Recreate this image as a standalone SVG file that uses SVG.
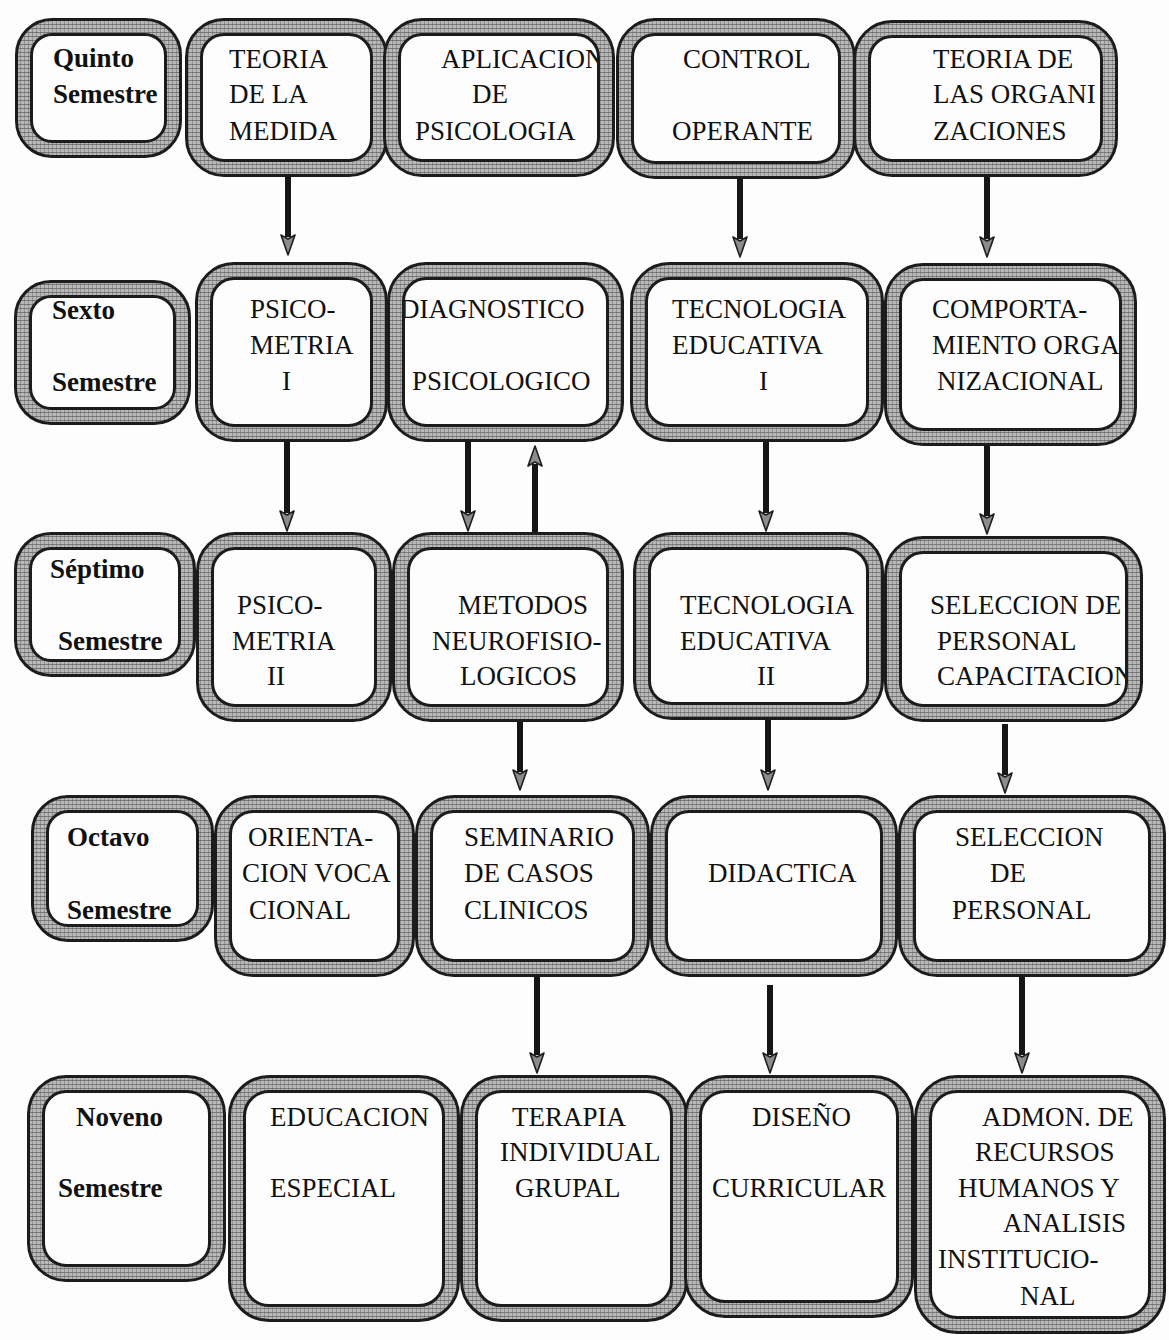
<svg xmlns="http://www.w3.org/2000/svg" width="1169" height="1340" viewBox="0 0 1169 1340">
<defs>
<pattern id="tex" width="4" height="4" patternUnits="userSpaceOnUse">
<rect width="4" height="4" fill="#b8b8b8"/>
<path d="M0 0.5H4" stroke="#3c3c3c" stroke-width="1" opacity="0.5"/>
<path d="M0.5 0V4" stroke="#5a5a5a" stroke-width="1" opacity="0.4"/>
</pattern>
<marker id="ah" viewBox="0 -9 24 18" refX="4" refY="0" markerWidth="24" markerHeight="18" markerUnits="userSpaceOnUse" orient="auto">
<path d="M2,-7 L22,0 L2,7 L6,0 Z" fill="#8c8c8c" stroke="#1e1e1e" stroke-width="1.6" stroke-linejoin="round"/>
</marker>
</defs>
<style>
.o{fill:none;stroke:#1c1c1c;stroke-width:18}
.t{fill:none;stroke:url(#tex);stroke-width:12}
text{font-family:"Liberation Serif","Times New Roman",serif;font-size:27px;fill:#111}
.lb{font-weight:bold;font-size:27px}
.ar{stroke:#161616;stroke-width:6;fill:none;marker-end:url(#ah)}
</style>
<rect width="1169" height="1340" fill="#fdfdfd"/>

<!-- Row 1 -->
<g id="quinto">
<text class="lb" x="53" y="67">Quinto</text>
<text class="lb" x="53" y="103">Semestre</text>
<rect class="o" x="24" y="27" width="149" height="122" rx="28"/>
<rect class="t" x="24" y="27" width="149" height="122" rx="28"/>
</g>
<g id="teoria-medida">
<text x="229" y="68">TEORIA</text>
<text x="229" y="103">DE LA</text>
<text x="229" y="140">MEDIDA</text>
<rect class="o" x="194" y="27" width="185" height="141" rx="30"/>
<rect class="t" x="194" y="27" width="185" height="141" rx="30"/>
</g>
<g id="aplicacion">
<text x="441" y="68">APLICACION</text>
<text x="472" y="103">DE</text>
<text x="415" y="140">PSICOLOGIA</text>
<rect class="o" x="392" y="27" width="214" height="141" rx="30"/>
<rect class="t" x="392" y="27" width="214" height="141" rx="30"/>
</g>
<g id="control">
<text x="683" y="68">CONTROL</text>
<text x="672" y="140">OPERANTE</text>
<rect class="o" x="625" y="27" width="222" height="143" rx="30"/>
<rect class="t" x="625" y="27" width="222" height="143" rx="30"/>
</g>
<g id="teoria-org">
<text x="933" y="68">TEORIA DE</text>
<text x="933" y="103">LAS ORGANI</text>
<text x="933" y="140">ZACIONES</text>
<rect class="o" x="862" y="29" width="247" height="139" rx="30"/>
<rect class="t" x="862" y="29" width="247" height="139" rx="30"/>
</g>

<!-- Row 2 -->
<g id="sexto">
<text class="lb" x="52" y="319">Sexto</text>
<text class="lb" x="52" y="391">Semestre</text>
<rect class="o" x="23" y="289" width="159" height="127" rx="28"/>
<rect class="t" x="23" y="289" width="159" height="127" rx="28"/>
</g>
<g id="psicometria1">
<text x="250" y="318">PSICO-</text>
<text x="250" y="354">METRIA</text>
<text x="282" y="390">I</text>
<rect class="o" x="204" y="271" width="175" height="162" rx="30"/>
<rect class="t" x="204" y="271" width="175" height="162" rx="30"/>
</g>
<g id="diagnostico">
<text x="400" y="318">DIAGNOSTICO</text>
<text x="412" y="390">PSICOLOGICO</text>
<rect class="o" x="396" y="271" width="219" height="162" rx="30"/>
<rect class="t" x="396" y="271" width="219" height="162" rx="30"/>
</g>
<g id="tecnologia1">
<text x="672" y="318">TECNOLOGIA</text>
<text x="672" y="354">EDUCATIVA</text>
<text x="759" y="390">I</text>
<rect class="o" x="639" y="271" width="236" height="162" rx="30"/>
<rect class="t" x="639" y="271" width="236" height="162" rx="30"/>
</g>
<g id="comportamiento">
<text x="932" y="318">COMPORTA-</text>
<text x="932" y="354">MIENTO ORGA</text>
<text x="937" y="390">NIZACIONAL</text>
<rect class="o" x="893" y="272" width="235" height="165" rx="30"/>
<rect class="t" x="893" y="272" width="235" height="165" rx="30"/>
</g>

<!-- Row 3 -->
<g id="septimo">
<text class="lb" x="50" y="578">Séptimo</text>
<text class="lb" x="58" y="650">Semestre</text>
<rect class="o" x="23" y="541" width="164" height="127" rx="28"/>
<rect class="t" x="23" y="541" width="164" height="127" rx="28"/>
</g>
<g id="psicometria2">
<text x="237" y="614">PSICO-</text>
<text x="232" y="650">METRIA</text>
<text x="267" y="685">II</text>
<rect class="o" x="205" y="541" width="178" height="172" rx="30"/>
<rect class="t" x="205" y="541" width="178" height="172" rx="30"/>
</g>
<g id="metodos">
<text x="458" y="614">METODOS</text>
<text x="432" y="650">NEUROFISIO-</text>
<text x="460" y="685">LOGICOS</text>
<rect class="o" x="401" y="541" width="214" height="172" rx="30"/>
<rect class="t" x="401" y="541" width="214" height="172" rx="30"/>
</g>
<g id="tecnologia2">
<text x="680" y="614">TECNOLOGIA</text>
<text x="680" y="650">EDUCATIVA</text>
<text x="757" y="685">II</text>
<rect class="o" x="642" y="541" width="233" height="170" rx="30"/>
<rect class="t" x="642" y="541" width="233" height="170" rx="30"/>
</g>
<g id="seleccion-capacitacion">
<text x="930" y="614">SELECCION DE</text>
<text x="937" y="650">PERSONAL</text>
<text x="937" y="685">CAPACITACION</text>
<rect class="o" x="893" y="545" width="241" height="168" rx="30"/>
<rect class="t" x="893" y="545" width="241" height="168" rx="30"/>
</g>

<!-- Row 4 -->
<g id="octavo">
<text class="lb" x="67" y="846">Octavo</text>
<text class="lb" x="67" y="919">Semestre</text>
<rect class="o" x="40" y="804" width="165" height="129" rx="28"/>
<rect class="t" x="40" y="804" width="165" height="129" rx="28"/>
</g>
<g id="orientacion">
<text x="248" y="846">ORIENTA-</text>
<text x="242" y="882">CION VOCA</text>
<text x="249" y="919">CIONAL</text>
<rect class="o" x="223" y="804" width="183" height="164" rx="30"/>
<rect class="t" x="223" y="804" width="183" height="164" rx="30"/>
</g>
<g id="seminario">
<text x="464" y="846">SEMINARIO</text>
<text x="464" y="882">DE CASOS</text>
<text x="464" y="919">CLINICOS</text>
<rect class="o" x="424" y="804" width="217" height="164" rx="30"/>
<rect class="t" x="424" y="804" width="217" height="164" rx="30"/>
</g>
<g id="didactica">
<text x="708" y="882">DIDACTICA</text>
<rect class="o" x="659" y="804" width="230" height="164" rx="30"/>
<rect class="t" x="659" y="804" width="230" height="164" rx="30"/>
</g>
<g id="seleccion-personal">
<text x="955" y="846">SELECCION</text>
<text x="990" y="882">DE</text>
<text x="952" y="919">PERSONAL</text>
<rect class="o" x="907" y="804" width="250" height="164" rx="30"/>
<rect class="t" x="907" y="804" width="250" height="164" rx="30"/>
</g>

<!-- Row 5 -->
<g id="noveno">
<text class="lb" x="76" y="1126">Noveno</text>
<text class="lb" x="58" y="1197">Semestre</text>
<rect class="o" x="36" y="1084" width="181" height="189" rx="30"/>
<rect class="t" x="36" y="1084" width="181" height="189" rx="30"/>
</g>
<g id="educacion">
<text x="270" y="1126">EDUCACION</text>
<text x="270" y="1197">ESPECIAL</text>
<rect class="o" x="237" y="1084" width="214" height="229" rx="32"/>
<rect class="t" x="237" y="1084" width="214" height="229" rx="32"/>
</g>
<g id="terapia">
<text x="512" y="1126">TERAPIA</text>
<text x="500" y="1161">INDIVIDUAL</text>
<text x="515" y="1197">GRUPAL</text>
<rect class="o" x="469" y="1084" width="210" height="229" rx="32"/>
<rect class="t" x="469" y="1084" width="210" height="229" rx="32"/>
</g>
<g id="diseno">
<text x="752" y="1126">DISEÑO</text>
<text x="712" y="1197">CURRICULAR</text>
<rect class="o" x="693" y="1084" width="212" height="225" rx="32"/>
<rect class="t" x="693" y="1084" width="212" height="225" rx="32"/>
</g>
<g id="admon">
<text x="982" y="1126">ADMON. DE</text>
<text x="975" y="1161">RECURSOS</text>
<text x="958" y="1197">HUMANOS Y</text>
<text x="1003" y="1232">ANALISIS</text>
<text x="938" y="1268">INSTITUCIO-</text>
<text x="1020" y="1305">NAL</text>
<rect class="o" x="923" y="1084" width="234" height="241" rx="34"/>
<rect class="t" x="923" y="1084" width="234" height="241" rx="34"/>
</g>

<!-- Connectors -->
<g id="connectors">
<line class="ar" x1="288" y1="176" x2="288" y2="237"/>
<line class="ar" x1="740" y1="178" x2="740" y2="239"/>
<line class="ar" x1="987" y1="177" x2="987" y2="239"/>
<line class="ar" x1="287" y1="442" x2="287" y2="513"/>
<line class="ar" x1="468" y1="442" x2="468" y2="513"/>
<line class="ar" x1="535" y1="532" x2="535" y2="464"/>
<line class="ar" x1="766" y1="442" x2="766" y2="513"/>
<line class="ar" x1="987" y1="446" x2="987" y2="516"/>
<line class="ar" x1="520" y1="722" x2="520" y2="772"/>
<line class="ar" x1="768" y1="720" x2="768" y2="772"/>
<line class="ar" x1="1005" y1="724" x2="1005" y2="775"/>
<line class="ar" x1="537" y1="977" x2="537" y2="1055"/>
<line class="ar" x1="770" y1="985" x2="770" y2="1055"/>
<line class="ar" x1="1022" y1="977" x2="1022" y2="1055"/>
</g>
</svg>
